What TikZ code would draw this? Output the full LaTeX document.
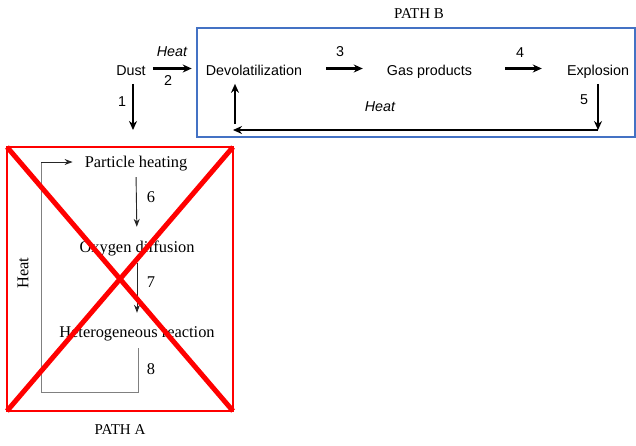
\documentclass[tikz,border=0pt]{standalone}
\usepackage{fontspec}
\setmainfont{Liberation Serif}
\setsansfont{Liberation Sans}
\usepackage{tikz}
\usetikzlibrary{arrows.meta}
\usetikzlibrary{calc}
\definecolor{boxblue}{RGB}{68,114,196}
\definecolor{boxred}{RGB}{255,0,0}
\definecolor{loopgray}{RGB}{128,128,128}

\begin{document}
\begin{tikzpicture}[x=1pt, y=-1pt,
        sans_style/.style={font=\sffamily\fontsize{14.3}{16}\selectfont, inner sep=2pt, text height=10.3pt, text depth=3pt},
        serif_style/.style={font=\fontsize{16.4}{19}\selectfont, inner sep=2pt, text height=11.5pt, text depth=3.5pt},
        sans_num/.style={font=\sffamily\fontsize{14.3}{16}\selectfont, inner sep=0pt},
        sans_heat/.style={font=\sffamily\itshape\fontsize{14.3}{16}\selectfont, inner sep=0pt},
        serif_num/.style={font=\fontsize{16.4}{19}\selectfont, inner sep=0pt},
        path_title/.style={font=\fontsize{15}{18}\selectfont, inner sep=0pt},
        big_arrow/.style={draw=black, line width=2.2pt, -{Stealth[length=9pt,width=8pt]}},
        thin_arrow/.style={draw=black!85, line width=0.9pt, -{Stealth[length=8pt,width=6pt]}},
        loop_line/.style={draw=loopgray, line width=1pt},
        cross_line/.style={draw=boxred, line width=5pt}]

        \useasboundingbox (0,0) rectangle (636,445);

        \coordinate (blue_tl) at (197,28);
        \coordinate (blue_br) at (635,137);
        \coordinate (red_tl) at (7,147);
        \coordinate (red_br) at (233,411);

        \draw [draw=boxblue, line width=1.3pt] (blue_tl) rectangle (blue_br);

        \node [path_title](pathB) at (419,14) {PATH B};

        \node [sans_style](dust) at (131,71.5) {Dust};

        \node [sans_style](devol) at (254,71.5) {Devolatilization};

        \node [sans_style](gas) at (429.5,71.5) {Gas products};

        \node [sans_style](expl) at (598,71.5) {Explosion};

        \node [sans_heat](heat2) at (172,52) {Heat};
        \node [sans_num](num2) at (168,81) {2};
        \node [sans_num](num1) at (122,102) {1};
        \node [sans_num](num3) at (340,52) {3};
        \node [sans_num](num4) at (520,53) {4};
        \node [sans_num](num5) at (584,100) {5};
        \node [sans_heat](heatB) at (380,107) {Heat};

        \coordinate (a1_end) at (133,130);
        \coordinate (ret_down) at (598,130);
        \coordinate (ret_left) at (233,130);
        \coordinate (ret_up) at (235,124);

        \draw [big_arrow, shorten <=5pt, shorten >=12pt] ([yshift=3pt]dust.east) -- ([yshift=3pt]devol.west);

        \draw [big_arrow, shorten <=3.5pt] ([xshift=2pt]dust.south) -- (a1_end);

        \draw [big_arrow, shorten <=22pt, shorten >=22pt] ([yshift=3pt]devol.east) -- ([yshift=3pt]gas.west);

        \draw [big_arrow, shorten <=31pt, shorten >=23pt] ([yshift=3pt]gas.east) -- ([yshift=3pt]expl.west);

        \draw [big_arrow, shorten <=3.5pt] (expl.south) -- (ret_down);

        \draw [big_arrow] (ret_down) -- (ret_left);

        \draw [big_arrow, shorten >=3.5pt] (ret_up) -- (ret_up |- devol.south);

        \node [serif_style](ph) at (136,163.5) {Particle heating};

        \node [serif_style](ox) at (137,248.5) {Oxygen diffusion};

        \node [serif_style](het) at (137,333.5) {Heterogeneous reaction};

        \node [serif_num](num6) at (151,197) {6};
        \node [serif_num](num7) at (151,282) {7};
        \node [serif_num](num8) at (151,369) {8};
        \node [serif_num, rotate=90](heatA) at (23,273) {Heat};
        \node [path_title](pathA) at (120,430) {PATH A};

        \coordinate (loop_bl) at (41,392);
        \coordinate (loop_tl) at (41,162);

        \draw [thin_arrow, shorten <=4pt, shorten >=12pt] (ph.south) -- (ox.north);

        \draw [thin_arrow, shorten <=5pt, shorten >=11pt] (ox.south) -- (het.north);

        \draw [loop_line, shorten <=5pt] ([xshift=1pt]het.south) |- (loop_bl) -- (loop_tl);

        \draw [thin_arrow, shorten >=10pt] (loop_tl) -- (loop_tl -| ph.west);

        \draw [draw=boxred, line width=1.1pt] (red_tl) rectangle (red_br);

        \draw [cross_line] (red_tl) -- (red_br);

        \draw [cross_line] (red_tl |- red_br) -- (red_br |- red_tl);

        \end{tikzpicture}
\end{document}
